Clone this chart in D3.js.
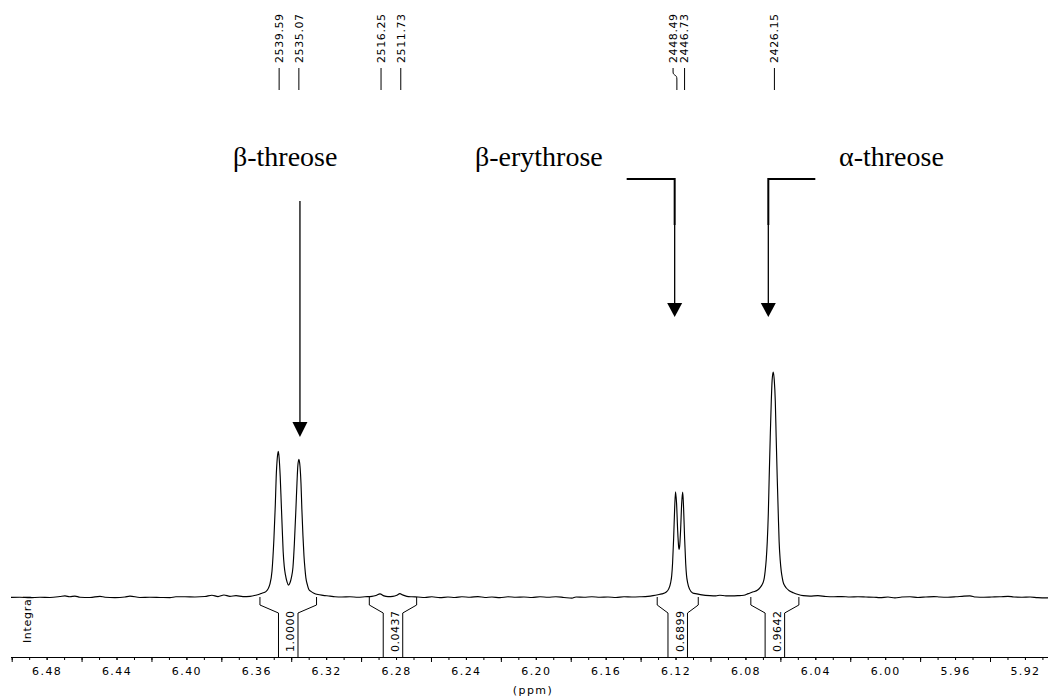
<!DOCTYPE html>
<html>
<head>
<meta charset="utf-8">
<script src="https://cdn.jsdelivr.net/npm/d3@7"></script>
<style>
  body { margin: 0; background: #fff; }
  svg { display: block; }
</style>
</head>
<body>
<svg id="chart" width="1048" height="699"></svg>
<script>
// spectrum (ppm, intensity with the tallest peak = 100)
var specPpm = [6.5004, 6.4953, 6.4896, 6.4838, 6.4781, 6.4724, 6.4695, 6.4667, 6.4638, 6.4609,
    6.4552, 6.4495, 6.4466, 6.4409, 6.4352, 6.4323, 6.4266, 6.4209, 6.4151, 6.4094,
    6.4060, 6.4008, 6.3951, 6.3894, 6.3854, 6.3819, 6.3785, 6.3751, 6.3716, 6.3676,
    6.3636, 6.3602, 6.3579, 6.3568, 6.3545, 6.3522, 6.3510, 6.3499, 6.3491, 6.3486,
    6.3480, 6.3474, 6.3469, 6.3463, 6.3457, 6.3451, 6.3446, 6.3440, 6.3433, 6.3424,
    6.3416, 6.3407, 6.3399, 6.3390, 6.3382, 6.3373, 6.3367, 6.3362, 6.3356, 6.3350,
    6.3344, 6.3339, 6.3333, 6.3327, 6.3321, 6.3316, 6.3307, 6.3299, 6.3287, 6.3270,
    6.3247, 6.3218, 6.3178, 6.3150, 6.3110, 6.3064, 6.3018, 6.2978, 6.2938, 6.2915,
    6.2892, 6.2869, 6.2846, 6.2818, 6.2795, 6.2778, 6.2761, 6.2738, 6.2709, 6.2675,
    6.2635, 6.2595, 6.2549, 6.2503, 6.2463, 6.2423, 6.2377, 6.2331, 6.2291, 6.2251,
    6.2205, 6.2159, 6.2114, 6.2068, 6.2022, 6.1976, 6.1930, 6.1885, 6.1839, 6.1793,
    6.1770, 6.1724, 6.1679, 6.1633, 6.1587, 6.1541, 6.1495, 6.1450, 6.1404, 6.1358,
    6.1329, 6.1301, 6.1278, 6.1255, 6.1240, 6.1228, 6.1222, 6.1217, 6.1211, 6.1205,
    6.1200, 6.1194, 6.1188, 6.1182, 6.1180, 6.1177, 6.1171, 6.1165, 6.1159, 6.1154,
    6.1148, 6.1142, 6.1137, 6.1131, 6.1119, 6.1102, 6.1078, 6.1049, 6.1003, 6.0969,
    6.0946, 6.0912, 6.0877, 6.0843, 6.0809, 6.0784, 6.0755, 6.0732, 6.0715, 6.0704,
    6.0698, 6.0692, 6.0687, 6.0681, 6.0675, 6.0669, 6.0664, 6.0658, 6.0652, 6.0647,
    6.0641, 6.0635, 6.0629, 6.0624, 6.0618, 6.0612, 6.0607, 6.0601, 6.0595, 6.0589,
    6.0584, 6.0578, 6.0566, 6.0549, 6.0526, 6.0498, 6.0469, 6.0431, 6.0385, 6.0339,
    6.0293, 6.0248, 6.0202, 6.0156, 6.0110, 6.0064, 6.0030, 5.9984, 5.9944, 5.9904,
    5.9858, 5.9813, 5.9767, 5.9721, 5.9687, 5.9641, 5.9595, 5.9549, 5.9515, 5.9481,
    5.9435, 5.9389, 5.9343, 5.9297, 5.9263, 5.9217, 5.9171, 5.9126, 5.9068];

var specInt = [-0.2, -0.1, -0.3, -0.1, -0.2, 0.2, 0.5, 0.1, 0.4, -0.1,
    -0.2, 0.3, -0.1, -0.3, 0.0, 0.4, -0.2, -0.1, -0.2, -0.3,
    0.1, 0.1, 0.0, 0.2, 0.8, 0.2, 0.9, 0.3, 0.6, 0.2,
    0.3, 0.8, 1.3, 1.7, 2.4, 5.7, 11.5, 25.9, 41.0, 53.2,
    61.5, 64.7, 61.7, 53.6, 41.6, 29.6, 20.1, 13.7, 9.8, 6.7,
    5.3, 6.3, 8.6, 13.2, 23.6, 39.3, 50.7, 58.4, 61.2, 58.3,
    50.4, 39.0, 27.5, 18.3, 12.3, 8.5, 5.3, 3.3, 2.5, 1.7,
    1.1, 0.75, 0.4, 0.1, 0.0, 0.1, -0.1, 0.1, 0.3, 0.7,
    1.4, 0.5, 0.2, 0.3, 0.8, 1.5, 0.9, 0.3, 0.1, 0.0,
    -0.2, 0.1, -0.3, 0.0, -0.2, 0.1, -0.1, 0.2, -0.2, 0.0,
    -0.3, 0.1, -0.1, 0.0, -0.2, 0.1, -0.1, 0.1, -0.2, -0.5,
    0.0, -0.1, 0.1, -0.1, 0.0, -0.2, 0.1, 0.0, 0.1, 0.3,
    0.6, 1.0, 1.4, 2.1, 3.5, 6.4, 9.5, 15.0, 25.9, 39.6,
    46.8, 41.4, 29.8, 22.1, 21.2, 22.1, 29.8, 41.4, 46.6, 39.6,
    25.9, 15.0, 9.5, 6.4, 3.4, 1.8, 1.4, 0.95, 0.6, 0.5,
    0.8, 0.5, 0.5, 0.6, 0.8, 1.5, 2.3, 3.0, 4.3, 5.6,
    6.6, 8.5, 11.5, 16.5, 24.5, 37.0, 53.0, 71.0, 87.0, 96.5,
    100.0, 96.5, 87.0, 71.0, 53.0, 37.0, 24.5, 16.5, 11.5, 8.5,
    6.6, 5.4, 4.0, 2.8, 1.9, 1.1, 0.6, 0.4, 0.6, 0.2,
    0.1, 0.2, 0.0, 0.1, 0.0, -0.1, -0.3, 0.0, -0.4, 0.0,
    0.1, -0.2, 0.0, 0.2, 0.0, -0.1, 0.1, 0.4, 0.5, 0.0,
    -0.1, 0.0, 0.1, 0.3, 0.0, -0.1, 0.0, -0.3, -0.4];

// peak picking labels (Hz, 400.13 MHz)
var peakHz = [2539.59, 2535.07, 2516.25, 2511.73, 2448.49, 2446.73, 2426.15];
var specFreq = 400.13;

// integrals
var intFrom = [6.3579, 6.2953, 6.1305, 6.0769];
var intTo = [6.3255, 6.2682, 6.1070, 6.0494];
var intValue = ["1.0000", "0.0437", "0.6899", "0.9642"];

// annotations
var annNames = ["β-threose", "β-erythrose", "α-threose"];
var annPpm = [6.3350, 6.1205, 6.0669];

// axis
var labelTicks = [6.48, 6.44, 6.40, 6.36, 6.32, 6.28, 6.24, 6.20, 6.16, 6.12, 6.08, 6.04, 6.00, 5.96, 5.92];
var majorTicks = [6.50, 6.46, 6.42, 6.38, 6.34, 6.30, 6.26, 6.22, 6.18, 6.14, 6.10, 6.06, 6.02, 5.98, 5.94];

var svg = d3.select("#chart"),
    width = +svg.attr("width"),
    height = +svg.attr("height");

var axisY = 657;

var x = d3.scaleLinear()
    .domain([6.5004, 5.9068])
    .range([11, width]);

var y = d3.scaleLinear()
    .domain([0, 100])
    .range([597, 372]);

svg.append("rect").attr("width", width).attr("height", height).attr("fill", "#fff");

// x axis
var minorTicks = d3.range(0, 60).map(function (i) { return +(6.50 - i * 0.01).toFixed(2); });

var gMinor = svg.append("g")
    .attr("transform", "translate(0," + axisY + ")")
    .call(d3.axisBottom(x).tickValues(minorTicks).tickSize(3).tickSizeOuter(0).tickFormat(""));
gMinor.select(".domain").remove();

svg.append("g")
    .attr("transform", "translate(0," + axisY + ")")
    .call(d3.axisBottom(x).tickValues(majorTicks).tickSize(5).tickSizeOuter(0).tickFormat(""))
    .select(".domain").remove();

var gLab = svg.append("g")
    .attr("transform", "translate(0," + axisY + ")")
    .call(d3.axisBottom(x).tickValues(labelTicks).tickSize(3).tickSizeOuter(0)
        .tickPadding(7).tickFormat(d3.format(".2f")));
gLab.select(".domain").remove();
gLab.selectAll("text")
    .attr("font-family", "DejaVu Sans, Verdana, sans-serif")
    .attr("font-size", 11)
    .attr("letter-spacing", 1.4)
    .attr("fill", "#000");
svg.selectAll(".tick line").attr("stroke", "#000");

svg.append("line")
    .attr("x1", x.range()[0]).attr("x2", x.range()[1])
    .attr("y1", axisY + 0.5).attr("y2", axisY + 0.5)
    .attr("stroke", "#000");

svg.append("text")
    .attr("x", 533).attr("y", 694)
    .attr("text-anchor", "middle")
    .attr("font-family", "DejaVu Sans, Verdana, sans-serif")
    .attr("font-size", 11)
    .attr("letter-spacing", 1.4)
    .text("(ppm)");

svg.append("text")
    .attr("transform", "translate(27,619) rotate(-90)")
    .attr("text-anchor", "middle")
    .attr("dy", "0.35em")
    .attr("font-family", "DejaVu Sans, Verdana, sans-serif")
    .attr("font-size", 11)
    .attr("letter-spacing", 0.7)
    .text("Integral");

// integral brackets
var half = 9.75;
intFrom.forEach(function (p, i) {
    var x1 = x(p), x2 = x(intTo[i]), xc = (x1 + x2) / 2, b = y(0);
    svg.append("path")
        .attr("d", "M" + x1 + "," + b + "V" + (b + 8) + "L" + (xc - half) + "," + (b + 16) + "V" + axisY +
            "M" + x2 + "," + b + "V" + (b + 8) + "L" + (xc + half) + "," + (b + 16) + "V" + axisY)
        .attr("fill", "none")
        .attr("stroke", "#000")
        .attr("stroke-width", 1);
    svg.append("text")
        .attr("transform", "translate(" + (xc + 2) + ",652) rotate(-90)")
        .attr("dy", "0.35em")
        .attr("font-family", "DejaVu Sans, Verdana, sans-serif")
        .attr("font-size", 11)
        .attr("letter-spacing", 0.5)
        .text(intValue[i]);
});

// spectrum
var line = d3.line()
    .curve(d3.curveMonotoneX)
    .x(function (d, i) { return x(specPpm[i]); })
    .y(function (d) { return y(d); });

svg.append("path")
    .datum(specInt)
    .attr("fill", "none")
    .attr("stroke", "#000")
    .attr("stroke-width", 1.15)
    .attr("stroke-linejoin", "round")
    .attr("d", line);

// peak labels along the top
var peakX = peakHz.map(function (hz) { return x(hz / specFreq); });
var labelX = peakX.slice();
for (var i = labelX.length - 2; i >= 0; i--) {
    if (labelX[i + 1] - labelX[i] < 11) labelX[i] = labelX[i + 1] - 11.5;
}
peakHz.forEach(function (hz, i) {
    var lx = labelX[i], px = peakX[i], d;
    if (Math.abs(lx - px) < 0.5) {
        d = "M" + px + ",68V90";
    } else {
        d = "M" + lx + ",68V72C" + lx + ",76 " + px + ",74 " + px + ",79V90";
    }
    svg.append("path").attr("d", d).attr("fill", "none").attr("stroke", "#000");
    svg.append("text")
        .attr("transform", "translate(" + lx + ",63) rotate(-90)")
        .attr("dy", "0.35em")
        .attr("font-family", "DejaVu Sans, Verdana, sans-serif")
        .attr("font-size", 11)
        .attr("letter-spacing", 0.6)
        .text(hz.toFixed(2));
});

// annotations with arrows
var annText = [233, 475, 839];
annNames.forEach(function (name, i) {
    svg.append("text")
        .attr("x", annText[i]).attr("y", 166)
        .attr("font-family", "Liberation Serif, Times New Roman, serif")
        .attr("font-size", 28)
        .text(name);
});

function arrowHead(ax, yTop, w, h) {
    svg.append("path")
        .attr("d", "M" + (ax - w / 2) + "," + yTop + "L" + (ax + w / 2) + "," + yTop + "L" + ax + "," + (yTop + h) + "Z")
        .attr("fill", "#000");
}

var a0 = x(annPpm[0]);
svg.append("line").attr("x1", a0).attr("x2", a0).attr("y1", 201).attr("y2", 423)
    .attr("stroke", "#000").attr("stroke-width", 1.3);
arrowHead(a0, 422, 15, 15);

[1, 2].forEach(function (i) {
    var ax = x(annPpm[i]);
    var hx = i === 1 ? ax - 48 : ax + 47;
    svg.append("path")
        .attr("d", "M" + hx + ",179H" + ax + "V225")
        .attr("fill", "none").attr("stroke", "#000").attr("stroke-width", 2);
    svg.append("line").attr("x1", ax).attr("x2", ax).attr("y1", 225).attr("y2", 304)
        .attr("stroke", "#000").attr("stroke-width", 1.3);
    arrowHead(ax, 303, 15, 14);
});
</script>
</body>
</html>
